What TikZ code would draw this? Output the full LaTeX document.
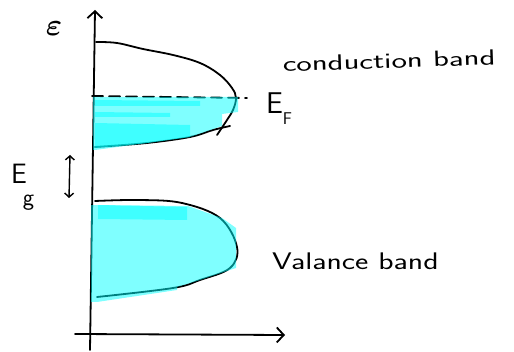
\documentclass[tikz,border=0pt]{standalone}
\usepackage{graphicx}
\usepackage{bm}
\usetikzlibrary{arrows.meta}
\definecolor{hl}{RGB}{0,255,255}
\begin{document}
\begin{tikzpicture}[x=1pt,y=-1pt,
  ink/.style={line width=1.8pt, line cap=round, line join=round, black},
  marker/.style={fill=hl, fill opacity=0.5},
  lbl/.style={font=\sffamily, inner sep=0pt, outer sep=0pt},
  barb/.style={-{Straight Barb[length=7pt,width=15pt,line width=1.8pt]}}]
\useasboundingbox[fill=white] (0,0) rectangle (514,352);
% axes
\coordinate (ybot) at (90,350);
\coordinate (ytop) at (95,10);
\coordinate (xl) at (75,334);
\coordinate (xr) at (285,335);
\draw[ink, barb] (ybot) -- (ytop);
\draw[ink, barb] (xl) -- (xr);
% conduction band
\draw[ink] plot[smooth, tension=0.6] coordinates {(96,42) (117,43) (143,49) (173,55) (200,63) (220,75) (232,88) (236,98) (233,110) (227,120) (217,135)};
\draw[ink] plot[smooth, tension=0.6] coordinates {(95,147) (147,143) (190,137) (213,130) (230,126)};
\coordinate (efl) at (92,96);
\coordinate (efr) at (247,98);
\draw[ink, dash pattern=on 11pt off 6pt] (efl) -- (efr);
% valence band
\draw[ink] plot[smooth, tension=0.6] coordinates {(95,201) (140,200) (182,203) (220,218) (237,247) (230,268) (200,280) (173,288) (97,297)};
% highlighter fills (conduction)
\fill[marker] (93,97) -- (238,97) -- (238,112) -- (222,114) -- (222,126) -- (190,137) -- (147,143) -- (95,150) -- (93,150) -- cycle;
\fill[marker] (95,100) -- (200,101) -- (200,106) -- (95,106) -- cycle;
\fill[marker] (95,123) -- (190,125) -- (190,137) -- (147,143) -- (95,148) -- cycle;
\fill[marker] (95,112) -- (170,113) -- (170,117) -- (95,117) -- cycle;
% highlighter fills (valence)
\fill[marker] (91,205) -- (188,206) -- (222,218) -- (236,228) -- (236,268) -- (200,280) -- (177,287) -- (177,290) -- (97,302) -- (91,302) -- cycle;
\fill[marker] (98,205) -- (187,207) -- (187,220) -- (98,219) -- cycle;
% gap arrow
\coordinate (gtop) at (70,155);
\coordinate (gbot) at (69,198);
\draw[line width=1.4pt, line cap=round, {Straight Barb[length=4pt,width=9pt,line width=1.4pt]}-{Straight Barb[length=4pt,width=9pt,line width=1.4pt]}] (gbot) -- (gtop);
% labels
\node[lbl, anchor=center] (eps) at (54,29) {\scalebox{3.1}{$\bm{\varepsilon}$}};
\node[lbl, anchor=base west] (ef) at (266,114) {\fontsize{30}{30}\selectfont E\raisebox{-11pt}{\fontsize{17}{17}\selectfont F}};
\node[lbl, anchor=base west] (eg) at (11,184) {\fontsize{28}{28}\selectfont E};
\node[lbl, anchor=base west] (egsub) at (23,206) {\fontsize{24}{24}\selectfont g};
\node[lbl, anchor=base west, rotate=2] (cb) at (283,72) {\scalebox{1.49}[1]{\fontsize{22}{22}\selectfont conduction band}};
\node[lbl, anchor=base west] (vb) at (272,270) {\scalebox{1.32}[1]{\fontsize{24}{24}\selectfont Valance band}};
\end{tikzpicture}
\end{document}
